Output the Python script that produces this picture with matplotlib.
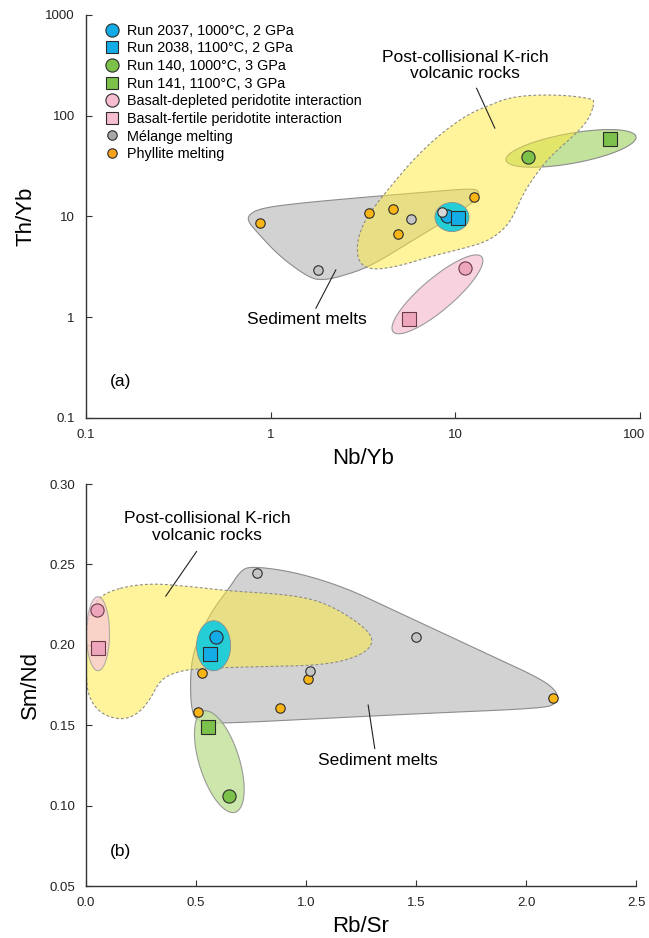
import numpy as np
import matplotlib
matplotlib.use("Agg")
import matplotlib.pyplot as plt
from matplotlib.lines import Line2D
from matplotlib.patches import Polygon

plt.rcParams['font.family'] = ['Liberation Sans', 'DejaVu Sans']

# ---- (a) Nb/Yb vs Th/Yb ----
run2037_a = (9.0, 10.0)
run2038_a = (10.4, 9.55)
run140_a = (24.8, 39.1)
run141_a = (68.7, 58.6)
bdp_a = (11.3, 3.09)      # basalt-depleted peridotite
bfp_a = (5.63, 0.955)     # basalt-fertile peridotite
melange_nb_a = [8.43, 5.75, 1.80]
melange_th_a = [11.1, 9.40, 2.95]
phyllite_nb_a = [0.875, 3.41, 4.61, 4.87, 12.6]
phyllite_th_a = [8.64, 10.8, 11.8, 6.67, 15.7]

# field outlines (log10 Nb/Yb, log10 Th/Yb)
volcanic_lx_a = [1.756, 1.729, 1.675, 1.512, 1.440, 1.368, 1.313, 1.259, 1.169, 1.043,
                 0.862, 0.682, 0.538, 0.474, 0.466, 0.501, 0.574, 0.664, 0.754, 0.862,
                 0.971, 1.079, 1.187, 1.278, 1.404, 1.584, 1.729]
volcanic_ly_a = [2.145, 1.989, 1.857, 1.592, 1.427, 1.229, 0.996, 0.864, 0.748, 0.682,
                 0.599, 0.499, 0.467, 0.549, 0.732, 0.930, 1.129, 1.328, 1.526, 1.725,
                 1.890, 2.023, 2.105, 2.172, 2.205, 2.205, 2.172]
sediment_lx_a = [-0.121, -0.058, 0.141, 0.501, 0.862, 1.097, 1.133, 1.115, 0.953, 0.772,
                 0.538, 0.375, 0.285, 0.213, 0.050, -0.076, -0.121]
sediment_ly_a = [1.013, 1.079, 1.129, 1.189, 1.244, 1.278, 1.244, 1.162, 0.963, 0.765,
                 0.500, 0.400, 0.367, 0.384, 0.599, 0.847, 0.946]

# ---- (b) Rb/Sr vs Sm/Nd ----
run2037_b = (0.589, 0.205)
run2038_b = (0.564, 0.194)
run140_b = (0.650, 0.106)
run141_b = (0.556, 0.149)
bdp_b = (0.0485, 0.2216)
bfp_b = (0.056, 0.198)
melange_rb_b = [0.776, 1.50, 1.018]
melange_sm_b = [0.2448, 0.205, 0.184]
phyllite_rb_b = [0.529, 1.008, 0.883, 0.508, 2.121]
phyllite_sm_b = [0.1825, 0.179, 0.161, 0.158, 0.167]

volcanic_x_b = [0.064, 0.260, 0.488, 0.640, 0.942, 1.094, 1.245, 1.314, 1.260, 1.094,
                0.791, 0.518, 0.412, 0.336, 0.291, 0.230, 0.155, 0.064, 0.010, 0.0,
                0.0, 0.010]
volcanic_y_b = [0.2320, 0.2386, 0.2361, 0.2336, 0.2310, 0.2258, 0.2134, 0.2030, 0.1937, 0.1874,
                0.1864, 0.1854, 0.1833, 0.1781, 0.1657, 0.1563, 0.1532, 0.1574, 0.1677, 0.1823,
                0.2030, 0.2175]
sediment_x_b = [0.745, 0.942, 1.170, 1.397, 1.624, 1.851, 2.079, 2.147, 2.139, 2.079,
                1.549, 1.094, 0.640, 0.518, 0.480, 0.473, 0.488, 0.564, 0.655, 0.700]
sediment_y_b = [0.2490, 0.2455, 0.2361, 0.2216, 0.2071, 0.1926, 0.1781, 0.1698, 0.1636, 0.1605,
                0.1574, 0.1543, 0.1512, 0.1516, 0.1574, 0.1781, 0.1968, 0.2196, 0.2361, 0.2455]

BLUE = '#14ace6'
GREEN = '#7cc24a'
PINK = '#eea6bc'
GREY = '#c4c4c4'
ORANGE = '#f9b514'
EDGE = '#2b2b2b'
YELLOW = '#ffea3a'


def chaikin(x, y, n=4):
    pts = np.column_stack([x, y])
    for _ in range(n):
        nxt = np.roll(pts, -1, axis=0)
        q = 0.75 * pts + 0.25 * nxt
        r = 0.25 * pts + 0.75 * nxt
        pts = np.empty((2 * len(q), 2))
        pts[0::2] = q
        pts[1::2] = r
    return pts


def ellipse(ax, center, w, h, angle, **kw):
    # w, h in pixels, drawn through the axes transform
    cx, cy = ax.transData.transform(center)
    t = np.linspace(0, 2 * np.pi, 200)
    a = np.radians(angle)
    ex, ey = w / 2 * np.cos(t), h / 2 * np.sin(t)
    px = cx + ex * np.cos(a) - ey * np.sin(a)
    py = cy + ex * np.sin(a) + ey * np.cos(a)
    pts = ax.transData.inverted().transform(np.column_stack([px, py]))
    ax.add_patch(Polygon(pts, closed=True, **kw))


def style_axes(ax):
    for s in ['top', 'right']:
        ax.spines[s].set_visible(False)
    for s in ['left', 'bottom']:
        ax.spines[s].set_color('#333333')
        ax.spines[s].set_linewidth(1.0)
    ax.tick_params(direction='in', length=4, width=0.8, colors='#333333',
                   labelsize=9.5, labelcolor='#222222', pad=8)
    ax.minorticks_off()


fig = plt.figure(figsize=(6.49, 9.38), dpi=100)
ax1 = fig.add_axes([86 / 649, 1 - 417.7 / 938, 554 / 649, 402.7 / 938])
ax2 = fig.add_axes([86 / 649, 1 - 886 / 938, 550 / 649, 402 / 938])

# ---------- panel (a) ----------
ax1.set_xscale('log')
ax1.set_yscale('log')
ax1.set_xlim(0.1, 100)
ax1.set_ylim(0.1, 1000)
style_axes(ax1)
ax1.set_xticks([0.1, 1, 10, 100])
ax1.set_xticklabels(['0.1', '1', '10', ''])
# last label nudged left so it stays inside the figure
ax1.annotate('100', xy=(100, 0.1), xytext=(-4, -8), textcoords='offset points',
             ha='center', va='top', fontsize=9.5, color='#222222', annotation_clip=False)
ax1.set_yticks([0.1, 1, 10, 100, 1000])
ax1.set_yticklabels(['0.1', '1', '10', '100', '1000'])
ax1.minorticks_off()
ax1.set_xlabel('Nb/Yb', fontsize=16, labelpad=5)
ax1.set_ylabel('Th/Yb', fontsize=16, labelpad=6)

sed = 10 ** chaikin(sediment_lx_a, sediment_ly_a)
ax1.add_patch(Polygon(sed, closed=True, fc='#d2d2d2', ec='#8c8c8c', lw=0.8, zorder=1))
ellipse(ax1, (42.3, 47.3), 132, 30, 10.2, fc='#c3e29c', ec='#8c8c8c', lw=0.8, zorder=1.5)
vol = 10 ** chaikin(volcanic_lx_a, volcanic_ly_a)
ax1.add_patch(Polygon(vol, closed=True, fc=YELLOW, alpha=0.5, ec='none', zorder=2))
ax1.add_patch(Polygon(vol, closed=True, fc='none', ec='#8a8a8a', lw=0.8,
                      ls=(0, (2.5, 2)), zorder=2.1))
ellipse(ax1, (8.0, 1.68), 116, 32, 40.3, fc='#f8d3df', ec='#9a9a9a', lw=0.8, zorder=2.5)
ellipse(ax1, (9.59, 9.84), 34, 29, 0, fc='#25cdd6', ec='#8c8c8c', lw=0.6, zorder=3)

ax1.plot(phyllite_nb_a, phyllite_th_a, 'o', ms=6.8, mfc=ORANGE, mec=EDGE, mew=0.8, zorder=4)
ax1.plot(melange_nb_a[1:], melange_th_a[1:], 'o', ms=6.8, mfc=GREY, mec=EDGE, mew=0.8, zorder=4)
ax1.plot(*run2037_a, 'o', ms=9.5, mfc=BLUE, mec=EDGE, mew=0.8, zorder=5)
ax1.plot(melange_nb_a[0], melange_th_a[0], 'o', ms=6.8, mfc='#d6d6d6', mec=EDGE, mew=0.8, zorder=5.5)
ax1.plot(*run2038_a, 's', ms=9.5, mfc=BLUE, mec=EDGE, mew=0.8, zorder=6)
ax1.plot(*run140_a, 'o', ms=9.5, mfc=GREEN, mec=EDGE, mew=0.8, zorder=5)
ax1.plot(*run141_a, 's', ms=9.5, mfc=GREEN, mec=EDGE, mew=0.8, zorder=5)
ax1.plot(*bdp_a, 'o', ms=9.5, mfc=PINK, mec='#6a3a48', mew=0.8, zorder=5)
ax1.plot(*bfp_a, 's', ms=9.5, mfc=PINK, mec='#6a3a48', mew=0.8, zorder=5)

handles = [
    Line2D([], [], ls='none', marker='o', ms=9.5, mfc=BLUE, mec=EDGE, mew=0.8,
           label='Run 2037, 1000°C, 2 GPa'),
    Line2D([], [], ls='none', marker='s', ms=8, mfc=BLUE, mec=EDGE, mew=0.8,
           label='Run 2038, 1100°C, 2 GPa'),
    Line2D([], [], ls='none', marker='o', ms=9.5, mfc=GREEN, mec=EDGE, mew=0.8,
           label='Run 140, 1000°C, 3 GPa'),
    Line2D([], [], ls='none', marker='s', ms=8, mfc=GREEN, mec=EDGE, mew=0.8,
           label='Run 141, 1100°C, 3 GPa'),
    Line2D([], [], ls='none', marker='o', ms=9.5, mfc='#f7bdd0', mec=EDGE, mew=0.8,
           label='Basalt-depleted peridotite interaction'),
    Line2D([], [], ls='none', marker='s', ms=8, mfc='#f7bdd0', mec=EDGE, mew=0.8,
           label='Basalt-fertile peridotite interaction'),
    Line2D([], [], ls='none', marker='o', ms=6.8, mfc='#a8a8a8', mec=EDGE, mew=0.8,
           label='Mélange melting'),
    Line2D([], [], ls='none', marker='o', ms=6.8, mfc='#f7a21c', mec=EDGE, mew=0.8,
           label='Phyllite melting'),
]
ax1.legend(handles=handles, loc='upper left', bbox_to_anchor=(0.034, 0.978),
           frameon=False, fontsize=10.4, handlelength=1.0, handletextpad=0.5,
           labelspacing=0.25, borderpad=0, borderaxespad=0)

ax1.text(0.684, 0.874, 'Post-collisional K-rich\nvolcanic rocks', transform=ax1.transAxes,
         ha='center', va='center', fontsize=12.5, linespacing=1.1)
ax1.plot([0.705, 0.738], [0.818, 0.719], color='#222222', lw=0.8, transform=ax1.transAxes)
ax1.text(0.398, 0.244, 'Sediment melts', transform=ax1.transAxes,
         ha='center', va='center', fontsize=12.5)
ax1.plot([0.415, 0.451], [0.272, 0.367], color='#222222', lw=0.8, transform=ax1.transAxes)
ax1.text(0.043, 0.091, '(a)', transform=ax1.transAxes, ha='left', va='center', fontsize=12.5)

# ---------- panel (b) ----------
ax2.set_xlim(0, 2.5)
ax2.set_ylim(0.05, 0.30)
style_axes(ax2)
ax2.set_xticks([0.0, 0.5, 1.0, 1.5, 2.0, 2.5])
ax2.set_xticklabels(['0.0', '0.5', '1.0', '1.5', '2.0', '2.5'])
ax2.set_yticks([0.05, 0.10, 0.15, 0.20, 0.25, 0.30])
ax2.set_yticklabels(['0.05', '0.10', '0.15', '0.20', '0.25', '0.30'])
ax2.set_xlabel('Rb/Sr', fontsize=16, labelpad=5)
ax2.set_ylabel('Sm/Nd', fontsize=16, labelpad=6)

sedb = chaikin(sediment_x_b, sediment_y_b)
ax2.add_patch(Polygon(sedb, closed=True, fc='#d2d2d2', ec='#8c8c8c', lw=0.8, zorder=1))
volb = chaikin(volcanic_x_b, volcanic_y_b)
ax2.add_patch(Polygon(volb, closed=True, fc=YELLOW, alpha=0.5, ec='none', zorder=2))
ax2.add_patch(Polygon(volb, closed=True, fc='none', ec='#8a8a8a', lw=0.8,
                      ls=(0, (2.5, 2)), zorder=2.1))
ellipse(ax2, (0.0545, 0.2069), 23, 74, 0, fc='#f7c9d6', alpha=0.75, ec='#9a9a9a', lw=0.8, zorder=2.5)
ellipse(ax2, (0.606, 0.1273), 106, 40, -72.5, fc='#c3e29c', alpha=0.85, ec='#8c8c8c', lw=0.8, zorder=2.5)
ellipse(ax2, (0.580, 0.1994), 34, 50, 0, fc='#25cdd6', ec='#8c8c8c', lw=0.6, zorder=3)

ax2.plot(phyllite_rb_b, phyllite_sm_b, 'o', ms=6.8, mfc=ORANGE, mec=EDGE, mew=0.8, zorder=4)
ax2.plot(melange_rb_b, melange_sm_b, 'o', ms=6.8, mfc=GREY, mec=EDGE, mew=0.8, zorder=4)
ax2.plot(*run2037_b, 'o', ms=9.5, mfc=BLUE, mec=EDGE, mew=0.8, zorder=5)
ax2.plot(*run2038_b, 's', ms=9.5, mfc=BLUE, mec=EDGE, mew=0.8, zorder=5)
ax2.plot(*run140_b, 'o', ms=9.5, mfc=GREEN, mec=EDGE, mew=0.8, zorder=5)
ax2.plot(*run141_b, 's', ms=9.5, mfc=GREEN, mec=EDGE, mew=0.8, zorder=5)
ax2.plot(*bdp_b, 'o', ms=9.5, mfc=PINK, mec='#6a3a48', mew=0.8, zorder=5)
ax2.plot(*bfp_b, 's', ms=9.5, mfc=PINK, mec='#6a3a48', mew=0.8, zorder=5)

ax2.text(0.22, 0.893, 'Post-collisional K-rich\nvolcanic rocks', transform=ax2.transAxes,
         ha='center', va='center', fontsize=12.5, linespacing=1.15)
ax2.plot([0.201, 0.145], [0.832, 0.721], color='#222222', lw=0.8, transform=ax2.transAxes)
ax2.text(0.531, 0.313, 'Sediment melts', transform=ax2.transAxes,
         ha='center', va='center', fontsize=12.5)
ax2.plot([0.513, 0.525], [0.450, 0.342], color='#222222', lw=0.8, transform=ax2.transAxes)
ax2.text(0.044, 0.085, '(b)', transform=ax2.transAxes, ha='left', va='center', fontsize=12.5)

fig.savefig('out.png', dpi=100)
